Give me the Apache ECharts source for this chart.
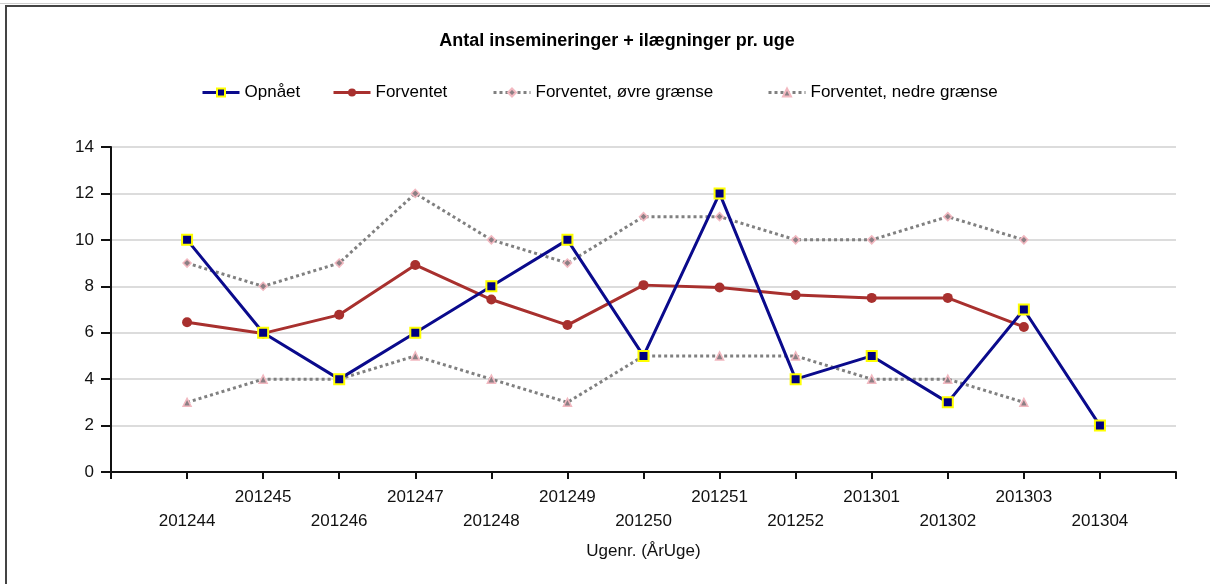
<!DOCTYPE html>
<html>
<head>
<meta charset="utf-8">
<script src="https://cdn.jsdelivr.net/npm/echarts@6/dist/echarts.min.js"></script>
<style>
html,body{margin:0;padding:0;background:#fff;}
#c{width:1210px;height:584px;}
</style>
</head>
<body>
<div id="c"></div>
<script>
// ---- data ----
const weeks = ['201244','201245','201246','201247','201248','201249','201250','201251','201252','201301','201302','201303','201304'];
const opnaet = [10, 6, 4, 6, 8, 10, 5, 12, 4, 5, 3, 7, 2];
const forventet = [6.45, 5.97, 6.77, 8.92, 7.43, 6.33, 8.05, 7.95, 7.62, 7.5, 7.5, 6.25, null];
const oevreGraense = [9, 8, 9, 12, 10, 9, 11, 11, 10, 10, 11, 10, null];
const nedreGraense = [3, 4, 4, 5, 4, 3, 5, 5, 5, 4, 4, 3, null];
const yTicks = [0, 2, 4, 6, 8, 10, 12, 14];

const title = 'Antal insemineringer + ilægninger pr. uge';
const xName = 'Ugenr. (ÅrUge)';
const names = ['Opnået', 'Forventet', 'Forventet, øvre grænse', 'Forventet, nedre grænse'];

// padded axis: one empty slot on each side
const cats = [''].concat(weeks, ['']);
const pad = arr => [null].concat(arr, [null]);

const FONT = 'Liberation Sans, Arial, sans-serif';
const chart = echarts.init(document.getElementById('c'), null, {renderer: 'canvas'});

const legendLefts = [196, 327, 487, 762];
const legends = names.map((n, i) => ({
  data: [n],
  left: legendLefts[i], top: 79,
  itemWidth: 37, itemHeight: 10,
  lineStyle: {width: 3},
  textStyle: {fontFamily: FONT, fontSize: 17, color: '#000'}
}));

chart.setOption({
  animation: false,
  backgroundColor: '#fff',
  textStyle: {fontFamily: FONT},
  title: {
    text: title,
    left: 612, top: 27, textAlign: 'center',
    textStyle: {fontFamily: FONT, fontSize: 18, fontWeight: 'bold', color: '#000'}
  },
  legend: legends,
  grid: {left: 111, right: 34, top: 147, bottom: 112, containLabel: false},
  xAxis: {
    type: 'category',
    data: cats,
    boundaryGap: false,
    name: xName,
    nameLocation: 'middle',
    nameGap: 71,
    nameTextStyle: {fontFamily: FONT, fontSize: 17, color: '#111'},
    axisLine: {lineStyle: {color: '#111', width: 2}},
    axisTick: {show: true, interval: 0, length: 7, lineStyle: {color: '#111', width: 2}},
    axisLabel: {
      interval: 0, margin: 13, lineHeight: 24,
      fontFamily: FONT, fontSize: 17, color: '#111',
      formatter: (v, i) => v === '' ? '' : (i % 2 === 1 ? '\n' + v : v)
    },
    splitLine: {show: false}
  },
  yAxis: {
    type: 'value',
    min: yTicks[0], max: yTicks[yTicks.length - 1], interval: 2,
    axisLine: {show: true, lineStyle: {color: '#111', width: 2}},
    axisTick: {show: true, length: 10, lineStyle: {color: '#111', width: 2}},
    axisLabel: {margin: 17, fontFamily: FONT, fontSize: 17, color: '#111'},
    splitLine: {lineStyle: {color: '#dcdcdc', width: 2}}
  },
  series: [
    {
      name: names[2], type: 'line', data: pad(oevreGraense), z: 2,
      symbol: 'diamond', symbolSize: 8, showAllSymbol: true,
      lineStyle: {color: '#808080', width: 3, type: [3, 3]},
      itemStyle: {color: '#8c7f84', borderColor: '#f2b8c0', borderWidth: 1.5}
    },
    {
      name: names[3], type: 'line', data: pad(nedreGraense), z: 2,
      symbol: 'triangle', symbolSize: 8, showAllSymbol: true,
      lineStyle: {color: '#808080', width: 3, type: [3, 3]},
      itemStyle: {color: '#8c7f84', borderColor: '#f2b8c0', borderWidth: 1.5}
    },
    {
      name: names[1], type: 'line', data: pad(forventet), z: 3,
      symbol: 'circle', symbolSize: 10, showAllSymbol: true,
      lineStyle: {color: '#a8302e', width: 3},
      itemStyle: {color: '#a8302e', borderColor: '#a8302e', borderWidth: 0}
    },
    {
      name: names[0], type: 'line', data: pad(opnaet), z: 4,
      symbol: 'rect', symbolSize: 10, showAllSymbol: true,
      lineStyle: {color: '#0a0a8c', width: 3},
      itemStyle: {color: '#000080', borderColor: '#ffff00', borderWidth: 2}
    }
  ],
  graphic: [
    {type: 'rect', shape: {x: 0, y: 3, width: 1210, height: 1}, style: {fill: '#cfcfcf'}, silent: true},
    {type: 'rect', shape: {x: 5, y: 5, width: 1205, height: 2}, style: {fill: '#444'}, silent: true},
    {type: 'rect', shape: {x: 5, y: 5, width: 2, height: 579}, style: {fill: '#444'}, silent: true}
  ]
});
</script>
</body>
</html>
